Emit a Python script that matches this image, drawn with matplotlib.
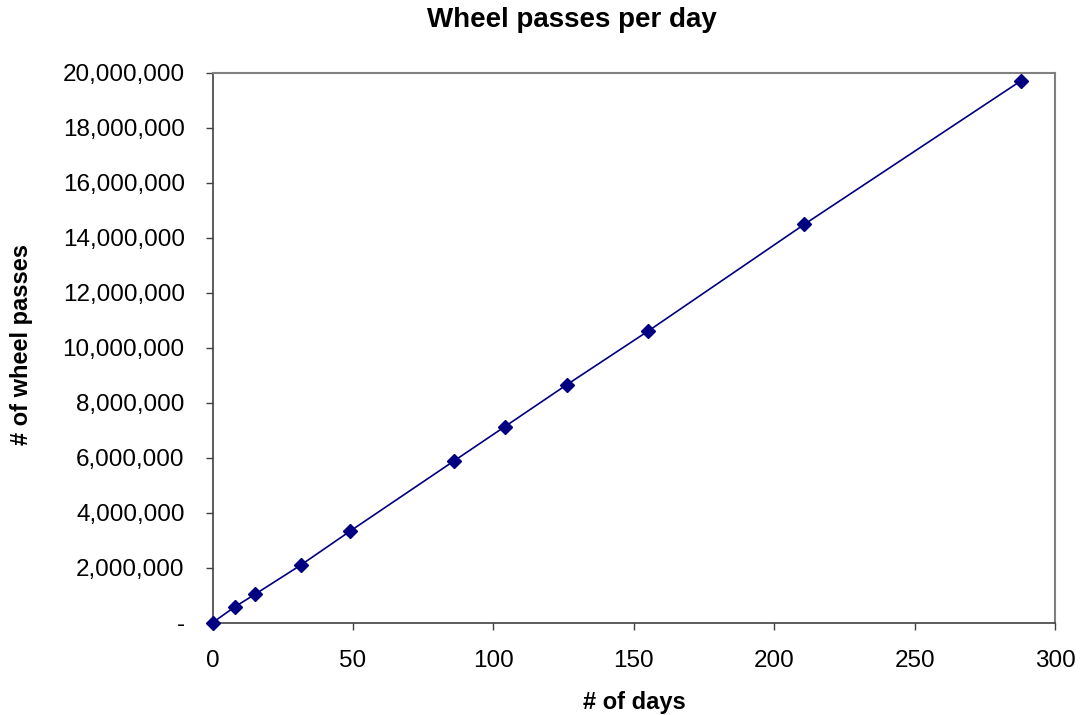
import matplotlib
matplotlib.use('Agg')
import matplotlib.pyplot as plt
from matplotlib.ticker import FuncFormatter
from matplotlib.transforms import Bbox

days = [0, 8, 15.1, 31.5, 49, 86.1, 104.1, 126.1, 155.2, 210.8, 287.8]
passes = [0, 580000, 1030000, 2100000, 3330000, 5890000, 7130000,
          8650000, 10610000, 14490000, 19700000]

plt.rcParams['font.family'] = ['Liberation Sans', 'DejaVu Sans']

W, H = 1081, 715
fig = plt.figure(figsize=(W / 100, H / 100), dpi=100)
ax = fig.add_axes([212.5 / W, (H - 622.7) / H, 842.5 / W, 550 / H])

ax.plot(days, passes, color='#000080', lw=1.2, marker='D', ms=7.5,
        mec='#000080', mfc='#000080', clip_on=False, zorder=3)

ax.set_xlim(0, 300)
ax.set_ylim(0, 20000000)
ax.set_xticks(range(0, 301, 50))
ax.set_yticks(range(0, 20000001, 2000000))
ax.yaxis.set_major_formatter(FuncFormatter(lambda v, p: '-' if v == 0 else f'{v:,.0f}'))

ax.tick_params(axis='both', labelsize=17.5, direction='out', length=5, width=1,
               color='#404040', pad=15)

for s in ['top', 'right']:
    ax.spines[s].set_color('#808080')
    ax.spines[s].set_linewidth(1.5)
for s in ['left', 'bottom']:
    ax.spines[s].set_color('#404040')
    ax.spines[s].set_linewidth(1.2)

fig.text(572 / W, (H - 20) / H, 'Wheel passes per day', fontsize=20,
         fontweight='bold', ha='center', va='center')
fig.text(634 / W, (H - 703) / H, '# of days', fontsize=17,
         fontweight='bold', ha='center', va='center')
yl = fig.text(22 / W, (H - 445) / H, '# of wheel passes', fontsize=17,
              fontweight='bold', rotation=90, ha='center', va='bottom')
yl.set_clip_box(Bbox.from_extents(0, 0, 200, H - 245))
yl.set_clip_on(True)

fig.savefig('out.png', dpi=100)
